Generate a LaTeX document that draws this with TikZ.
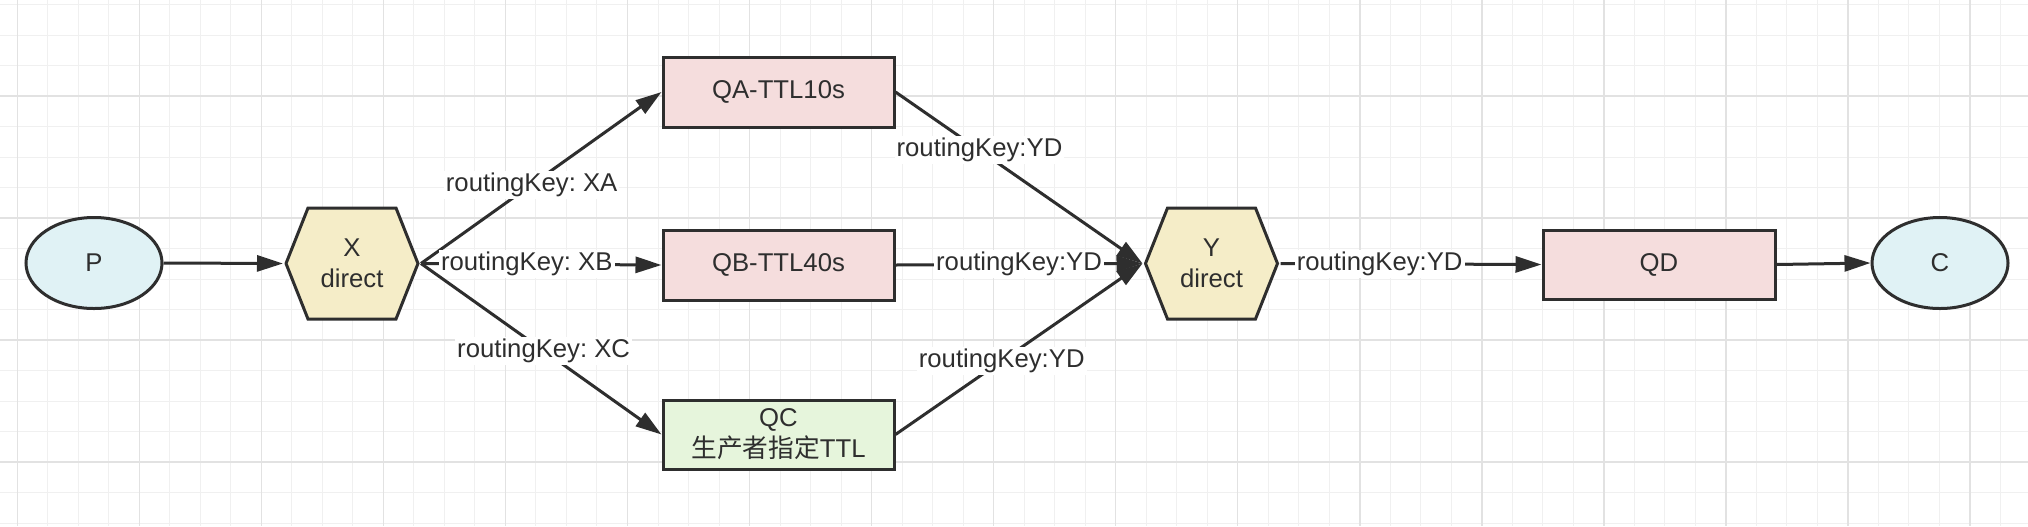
\documentclass[tikz,border=0pt]{standalone}
\usepackage{fontspec}
\setmainfont{Liberation Sans}
\newfontfamily\cjk{Noto Sans CJK SC}
\usetikzlibrary{arrows.meta,shapes.geometric}
\definecolor{ink}{RGB}{46,46,46}
\definecolor{endfill}{RGB}{224,242,245}
\definecolor{exfill}{RGB}{245,237,200}
\definecolor{qfill}{RGB}{245,221,221}
\definecolor{ttlfill}{RGB}{230,245,220}
\definecolor{gridminor}{RGB}{240,240,240}
\definecolor{gridmajor}{RGB}{226,226,226}
\frenchspacing
\begin{document}
\begin{tikzpicture}[x=0.5pt, y=-0.5pt, line width=1.5pt,
    every node/.style={font=\fontsize{12.85pt}{15.5pt}\selectfont, text=ink},
    client/.style={ellipse, draw=ink, fill=endfill, minimum width=68pt, minimum height=45.5pt, inner sep=0pt},
    exch/.style={rectangle, minimum width=67.5pt, minimum height=57pt, inner sep=0pt, align=center,
        path picture={\filldraw[draw=ink, fill=exfill, line join=miter]
            ([xshift=0.75pt]path picture bounding box.west)
            -- ([xshift=11.75pt, yshift=-0.75pt]path picture bounding box.north west)
            -- ([xshift=-11.75pt, yshift=-0.75pt]path picture bounding box.north east)
            -- ([xshift=-0.75pt]path picture bounding box.east)
            -- ([xshift=-11.75pt, yshift=0.75pt]path picture bounding box.south east)
            -- ([xshift=11.75pt, yshift=0.75pt]path picture bounding box.south west)
            -- cycle;}},
    queue/.style={rectangle, draw=ink, fill=qfill, minimum width=115.5pt, minimum height=35pt, inner sep=0pt, align=center},
    link/.style={draw=ink, -{Triangle[length=13pt,width=8pt]}},
    key/.style={fill=white, inner sep=1pt}]
    \useasboundingbox (0,0) rectangle (2028,526);
    \fill[white] (0,0) rectangle (2028,526);
    \foreach \i in {0,...,65} {
        \pgfmathsetmacro\gx{17.3+30.51*\i}
        \draw[gridminor, line width=0.5pt] (\gx,0) -- (\gx,526);
    }
    \foreach \i in {-3,...,14} {
        \pgfmathsetmacro\gy{96+30.5*\i}
        \draw[gridminor, line width=0.5pt] (0,\gy) -- (2028,\gy);
    }
    \foreach \i in {0,...,16} {
        \pgfmathsetmacro\gx{17.3+122.04*\i}
        \draw[gridmajor, line width=0.75pt] (\gx,0) -- (\gx,526);
    }
    \foreach \i in {-1,...,3} {
        \pgfmathsetmacro\gy{96+122*\i}
        \draw[gridmajor, line width=0.75pt] (0,\gy) -- (2028,\gy);
    }

    \node [client] (P) at (94,263) {P};
    \node [exch] (X) at (352,263.5) {X\\direct};
    \node [queue] (QA) at (778.5,92) {QA-TTL10s};
    \node [queue] (QB) at (778.5,265) {QB-TTL40s};
    \node [queue, fill=ttlfill, minimum height=34.5pt] (QC) at (778.5,434.5) {QC\\{\cjk 生产者指定}TTL};
    \node [exch] (Y) at (1211.5,263.5) {Y\\direct};
    \node [queue, minimum width=116pt, minimum height=34.5pt] (QD) at (1659,264.5) {QD};
    \node [client] (C) at (1940,263) {C};

    \path (P.east) edge[link] (X.west);
    \path (X.east) edge[link] node[key, pos=0.46] {routingKey: XA} (QA.west);
    \path (X.east) edge[link] node[key, pos=0.44] {routingKey: XB} (QB.west);
    \path (X.east) edge[link] node[key, pos=0.51] {routingKey: XC} (QC.west);
    \path (QA.east) edge[link] node[key, pos=0.34] {routingKey:YD} (Y.west);
    \path (QB.east) edge[link] node[key] {routingKey:YD} (Y.west);
    \path (QC.east) edge[link] node[key, pos=0.43] {routingKey:YD} (Y.west);
    \path (Y.east) edge[link] node[key, pos=0.38] {routingKey:YD} (QD.west);
    \path (QD.east) edge[link] (C.west);
\end{tikzpicture}
\end{document}
